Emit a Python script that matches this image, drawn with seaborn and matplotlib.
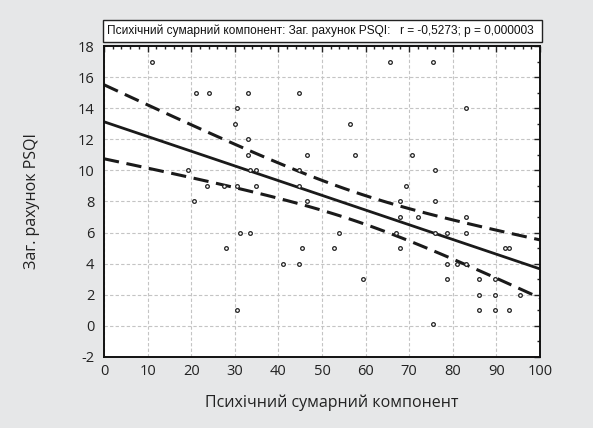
import numpy as np
import pandas as pd
import matplotlib
matplotlib.use('Agg')
import matplotlib.pyplot as plt
import seaborn as sb
from matplotlib.ticker import MultipleLocator
from matplotlib.patches import Rectangle

# mental component score vs PSQI total
mcs = [11, 21, 24, 33, 44.7, 30.4, 30, 56.4, 33,
       33, 46.5, 57.6, 70.6, 19.3, 33.6, 34.8, 44.7, 76,
       23.6, 27.5, 30.4, 34.8, 44.7, 69.3, 20.6, 46.5, 68, 76,
       68, 72, 83, 31.2, 33.6, 54, 67, 76, 78.6, 83,
       28, 45.3, 52.7, 68, 92, 93, 41, 44.7, 78.6, 81, 83,
       59.5, 78.6, 86, 89.7, 86, 89.7, 95.3,
       30.4, 86, 89.7, 92.9, 75.5, 65.5, 75.5, 83]
psqi = [17, 15, 15, 15, 15, 14, 13, 13, 12,
        11, 11, 11, 11, 10, 10, 10, 10, 10,
        9, 9, 9, 9, 9, 9, 8, 8, 8, 8,
        7, 7, 7, 6, 6, 6, 6, 6, 6, 6,
        5, 5, 5, 5, 5, 5, 4, 4, 4, 4, 4,
        3, 3, 3, 3, 2, 2, 2,
        1, 1, 1, 1, 0.1, 17, 17, 14]

title = 'Психічний сумарний компонент: Заг. рахунок PSQI:   r = -0,5273; p = 0,000003'
xlabel = 'Психічний сумарний компонент'
ylabel = 'Заг. рахунок PSQI'

df = pd.DataFrame({'x': mcs, 'y': psqi})

# linear fit + 95% confidence band for the mean
b, a = np.polyfit(df.x, df.y, 1)
n = len(df)
resid = df.y - (a + b * df.x)
s = np.sqrt((resid ** 2).sum() / (n - 2))
xg = np.linspace(0, 100, 101)
yg = a + b * xg
se = s * np.sqrt(1 / n + (xg - df.x.mean()) ** 2 / ((df.x - df.x.mean()) ** 2).sum())
fit = pd.DataFrame({'x': xg, 'y': yg, 'lo': yg - 1.9 * se, 'hi': yg + 1.9 * se})

sb.set_style('white')
plt.rcParams['font.family'] = ['Open Sans', 'DejaVu Sans']
plt.rcParams['axes.unicode_minus'] = False

W, H = 593, 428
fig = plt.figure(figsize=(5.93, 4.28), dpi=100, facecolor='#e6e7e8')
ax = fig.add_axes([104 / W, 1 - 357 / H, 436 / W, 311 / H])
ax.set_facecolor('white')

ax.grid(True, color='#c4c4c4', linestyle=(0, (3, 2)), linewidth=0.8)
ax.set_axisbelow(True)

sb.lineplot(data=fit, x='x', y='y', ax=ax, color='#1a1a1a', linewidth=2)
sb.lineplot(data=fit, x='x', y='lo', ax=ax, color='#1a1a1a', linewidth=2.2,
            linestyle=(0, (5, 2.5)))
sb.lineplot(data=fit, x='x', y='hi', ax=ax, color='#1a1a1a', linewidth=2.2,
            linestyle=(0, (5, 2.5)))
sb.scatterplot(data=df, x='x', y='y', ax=ax, marker='o', s=7, facecolor='white',
               edgecolor='#222222', linewidth=0.9, zorder=5)

ax.set_xlim(0, 100)
ax.set_ylim(-2, 18)
ax.xaxis.set_major_locator(MultipleLocator(10))
ax.xaxis.set_minor_locator(MultipleLocator(2))
ax.yaxis.set_major_locator(MultipleLocator(2))
ax.yaxis.set_minor_locator(MultipleLocator(1))
ax.tick_params(which='both', direction='in', top=True, right=True, color='#222222',
               labelsize=10.5, labelcolor='#222222')
ax.tick_params(which='major', length=4, width=1, pad=7)
ax.tick_params(which='minor', length=2.5, width=1)
ax.tick_params(axis='x', which='major', pad=5)
for sp in ax.spines.values():
    sp.set_color('#111111')
    sp.set_linewidth(1.4)

ax.set_xlabel(xlabel, fontsize=11.5, color='#222222')
ax.set_ylabel(ylabel, fontsize=11.5, color='#222222')
ax.xaxis.set_label_coords(0.523, -0.12)
ax.yaxis.set_label_coords(-0.147, 0.5)

# title box above the plot
fig.patches.append(Rectangle((103 / W, 1 - 42 / H), 439 / W, 22 / H, transform=fig.transFigure,
                             facecolor='white', edgecolor='#222222', linewidth=1))
fig.text(107 / W, 1 - 31 / H, title, fontsize=8.55, color='#111111', ha='left', va='center',
         family=['Liberation Sans Narrow', 'Liberation Sans', 'DejaVu Sans'])

fig.savefig('out.png', dpi=100, facecolor=fig.get_facecolor())
